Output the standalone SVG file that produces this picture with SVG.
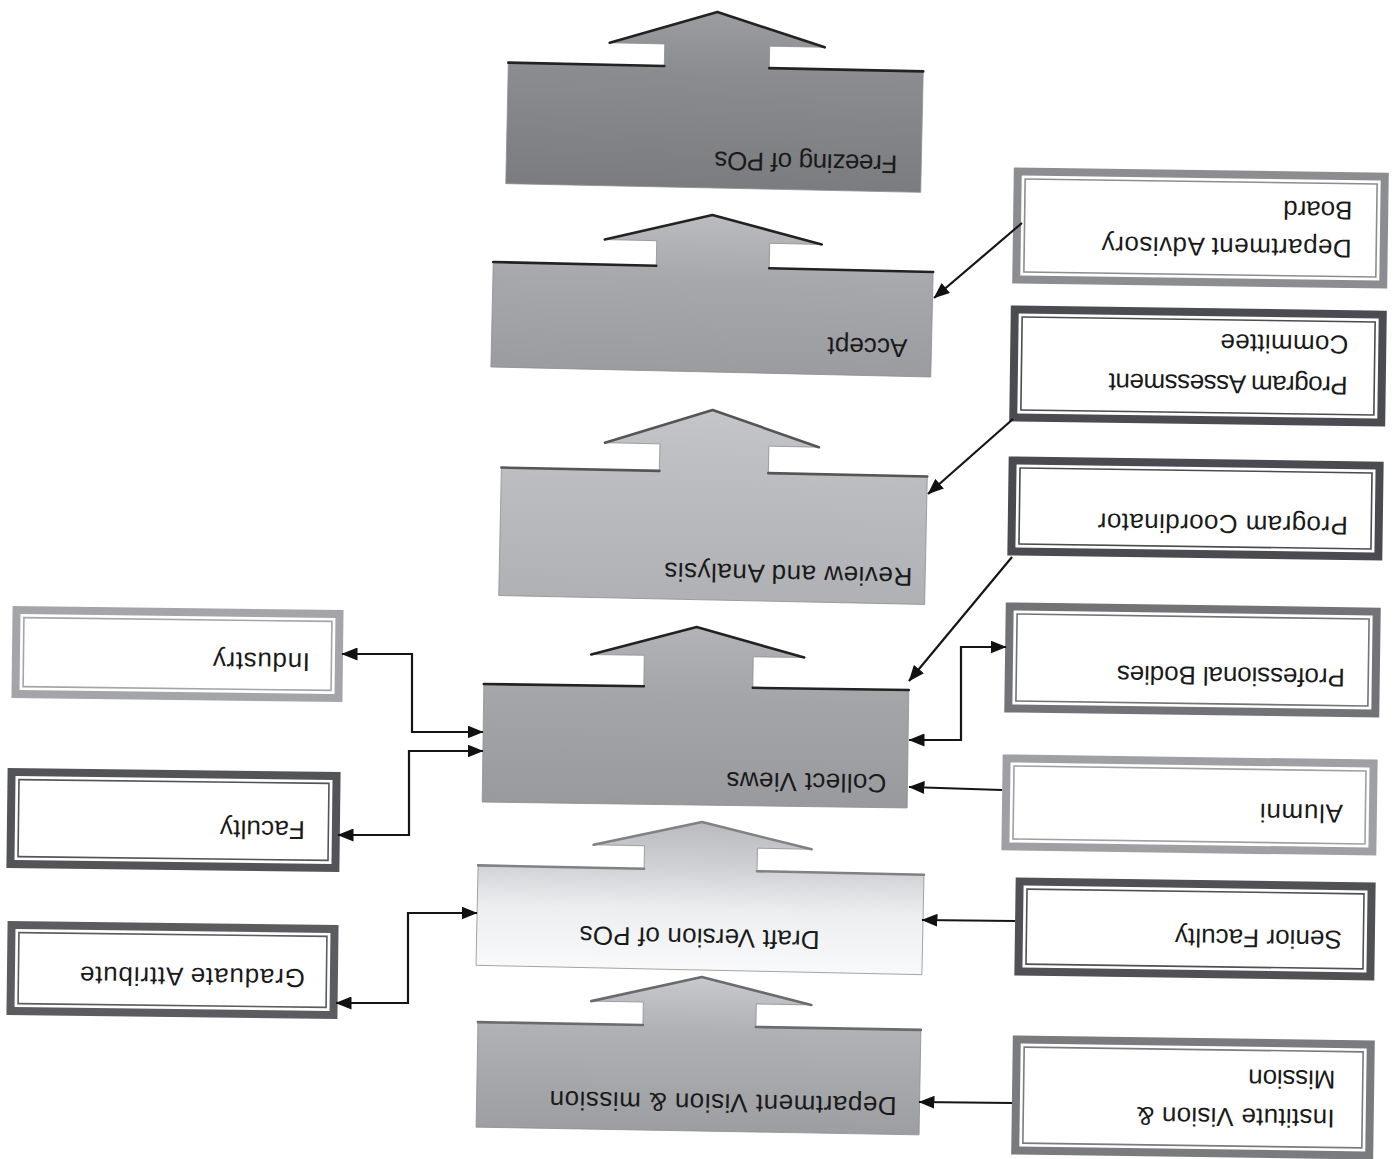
<svg xmlns="http://www.w3.org/2000/svg" width="1399" height="1159" viewBox="0 0 1399 1159">
<style>
  .lbl { font-family: "Liberation Sans", Arial, sans-serif; font-size: 26px; fill: #1a1a1a; }
  .mid { text-anchor: middle; }
  .shape { stroke: #8d8e92; stroke-width: 0.8; }
  .edge { fill: none; stroke-width: 2.6; stroke-linecap: round; stroke-linejoin: round; }
  .inner { fill: #ffffff; }
  .thin { fill: none; stroke-width: 1.6; }
  .conn { fill: none; stroke: #151515; stroke-width: 2.2; }
</style>
<defs>
  <marker id="ah" viewBox="0 0 16 13" refX="15.5" refY="6.5" markerWidth="16" markerHeight="13" markerUnits="userSpaceOnUse" orient="auto-start-reverse">
    <path d="M0,0 L16,6.5 L0,13 z" fill="#111"/>
  </marker>
  <linearGradient id="g1" x1="0" y1="0" x2="0" y2="1">
    <stop offset="0" stop-color="#9c9da1"/><stop offset="0.35" stop-color="#8a8c90"/><stop offset="1" stop-color="#7a7c80"/>
  </linearGradient>
  <linearGradient id="g2" x1="0" y1="0" x2="0" y2="1">
    <stop offset="0" stop-color="#bbbcc0"/><stop offset="0.4" stop-color="#a6a8ac"/><stop offset="1" stop-color="#9a9ca0"/>
  </linearGradient>
  <linearGradient id="g3" x1="0" y1="0" x2="0" y2="1">
    <stop offset="0" stop-color="#c4c5c8"/><stop offset="0.4" stop-color="#bbbcbf"/><stop offset="1" stop-color="#b0b1b4"/>
  </linearGradient>
  <linearGradient id="g4" x1="0" y1="0" x2="0" y2="1">
    <stop offset="0" stop-color="#b2b3b7"/><stop offset="0.4" stop-color="#a4a5a9"/><stop offset="1" stop-color="#999a9e"/>
  </linearGradient>
  <linearGradient id="g5" x1="0" y1="0" x2="0" y2="1">
    <stop offset="0" stop-color="#b9babd"/><stop offset="0.3" stop-color="#cfd0d3"/><stop offset="0.6" stop-color="#eceef0"/><stop offset="1" stop-color="#f8f9fa"/>
  </linearGradient>
  <linearGradient id="g6" x1="0" y1="0" x2="0" y2="1">
    <stop offset="0" stop-color="#c8c9cc"/><stop offset="0.35" stop-color="#b0b1b5"/><stop offset="1" stop-color="#9d9ea2"/>
  </linearGradient>
</defs>
<rect width="1399" height="1159" fill="#ffffff"/>

<!-- main process steps -->
<g id="freezing" transform="rotate(1.2 714.5 127.5)">
  <path class="shape" fill="url(#g1)" d="M507,67 H663 V45 H608 L715,12 L823,45 H768 V67 H922 V188 H507 Z"/>
  <path class="edge" stroke="#222" d="M507,67 H663 M768,67 H922 M608,45 L715,12 L823,45"/>
  <text class="lbl mid" x="806.5" y="170.3" transform="rotate(180 806.5 161)" textLength="183">Freezing of POs</text>
</g>
<g id="accept" transform="rotate(1.3 712 320)">
  <path class="shape" fill="url(#g2)" d="M492,267 H655 V242 H603 L710,215 L820,242 H768 V267 H932 V372 H492 Z"/>
  <path class="edge" stroke="#222" d="M492,267 H655 M768,267 H932 M603,242 L710,215 L820,242"/>
  <text class="lbl mid" x="868" y="353.3" transform="rotate(180 868 344)" textLength="80">Accept</text>
</g>
<g id="review" transform="rotate(1.2 713 536)">
  <path class="shape" fill="url(#g3)" d="M500,472 H658 V445 H603 L710,410 L817,445 H767 V472 H926 V600 H500 Z"/>
  <path class="edge" stroke="#555" d="M500,472 H658 M767,472 H926 M603,445 L710,410 L817,445"/>
  <text class="lbl mid" x="789" y="582.3" transform="rotate(180 789 573)" textLength="248">Review and Analysis</text>
</g>
<g id="collect" transform="rotate(0.8 695 745)">
  <path class="shape" fill="url(#g4)" d="M483,687 H643 V656 H590 L695,627 L803,656 H752 V687 H908 V805 H483 Z"/>
  <path class="edge" stroke="#222" d="M483,687 H643 M752,687 H908 M590,656 L695,627 L803,656"/>
  <text class="lbl mid" x="807" y="790.3" transform="rotate(180 807 781)" textLength="160">Collect Views</text>
</g>
<g id="draft" transform="rotate(1.2 700 920)">
  <path class="shape" fill="url(#g5)" d="M477,870 H643 V847 H592 L700,822 L810,847 H756 V870 H923 V970 H477 Z"/>
  <path class="edge" stroke="#808185" d="M477,870 H643 M756,870 H923 M592,847 L700,822 L810,847"/>
  <text class="lbl mid" x="700" y="947.3" transform="rotate(180 700 938)" textLength="240">Draft Version of POs</text>
</g>
<g id="dept-vm" transform="rotate(1.0 698.5 1078.5)">
  <path class="shape" fill="url(#g6)" d="M477,1026 H642 V1003 H590 L700,977 L810,1003 H755 V1026 H920 V1131 H477 Z"/>
  <path class="edge" stroke="#6a6b6f" d="M477,1026 H642 M755,1026 H920 M590,1003 L700,977 L810,1003"/>
  <text class="lbl mid" x="723.5" y="1112.3" transform="rotate(180 723.5 1103)" textLength="347">Department Vision &amp; mission</text>
</g>

<!-- right side stakeholders -->
<g id="dab" transform="rotate(0.8 1200 228)">
  <rect x="1013" y="170" width="375" height="116" fill="#8c8d91"/>
  <rect class="inner" x="1021" y="178" width="359" height="100"/>
  <rect class="thin" stroke="#8c8d91" x="1024.5" y="181.5" width="352" height="93"/>
  <text class="lbl" x="1352" y="256.3" transform="rotate(180 1352 247)" textLength="250">Department Advisory</text>
  <text class="lbl" x="1352" y="218.3" transform="rotate(180 1352 209)" textLength="69">Board</text>
</g>
<g id="pac" transform="rotate(0.8 1198 366)">
  <rect x="1010" y="308" width="376" height="116" fill="#4b4c51"/>
  <rect class="inner" x="1018" y="316" width="360" height="100"/>
  <rect class="thin" stroke="#4b4c51" x="1021.5" y="319.5" width="353" height="93"/>
  <text class="lbl" x="1348" y="393.3" transform="rotate(180 1348 384)" textLength="239">Program Assessment</text>
  <text class="lbl" x="1348" y="352.3" transform="rotate(180 1348 343)" textLength="128">Committee</text>
</g>
<g id="pc" transform="rotate(0.8 1195 508)">
  <rect x="1008" y="459" width="375" height="99" fill="#4a4b50"/>
  <rect class="inner" x="1016" y="467" width="359" height="83"/>
  <rect class="thin" stroke="#4a4b50" x="1019.5" y="470.5" width="352" height="76"/>
  <text class="lbl" x="1348" y="533.3" transform="rotate(180 1348 524)" textLength="250">Program Coordinator</text>
</g>
<g id="pb" transform="rotate(0.8 1192 660)">
  <rect x="1005" y="605" width="375" height="110" fill="#727377"/>
  <rect class="inner" x="1013" y="613" width="359" height="94"/>
  <rect class="thin" stroke="#727377" x="1016.5" y="616.5" width="352" height="87"/>
  <text class="lbl" x="1345" y="685.3" transform="rotate(180 1345 676)" textLength="228">Professional Bodies</text>
</g>
<g id="alumni" transform="rotate(0.8 1190 805)">
  <rect x="1002" y="757" width="375" height="96" fill="#9fa0a4"/>
  <rect class="inner" x="1010" y="765" width="359" height="80"/>
  <rect class="thin" stroke="#9fa0a4" x="1013.5" y="768.5" width="352" height="73"/>
  <text class="lbl" x="1343" y="821.3" transform="rotate(180 1343 812)" textLength="83">Alumni</text>
</g>
<g id="senior" transform="rotate(0.8 1195 929)">
  <rect x="1015" y="880" width="360" height="98" fill="#505155"/>
  <rect class="inner" x="1023" y="888" width="344" height="82"/>
  <rect class="thin" stroke="#505155" x="1026.5" y="891.5" width="337" height="75"/>
  <text class="lbl" x="1342" y="947.3" transform="rotate(180 1342 938)" textLength="167">Senior Faculty</text>
</g>
<g id="institute" transform="rotate(0.8 1193 1097)">
  <rect x="1012" y="1038" width="362" height="119" fill="#7a7b7f"/>
  <rect class="inner" x="1020" y="1046" width="346" height="103"/>
  <rect class="thin" stroke="#7a7b7f" x="1023.5" y="1049.5" width="339" height="96"/>
  <text class="lbl" x="1335" y="1126.3" transform="rotate(180 1335 1117)" textLength="198">Institute Vision &amp;</text>
  <text class="lbl" x="1335" y="1087.3" transform="rotate(180 1335 1078)" textLength="87">Mission</text>
</g>

<!-- left side stakeholders -->
<g id="industry" transform="rotate(0.7 177.5 654)">
  <rect x="12" y="608" width="331" height="92" fill="#a4a5a9"/>
  <rect class="inner" x="20" y="616" width="315" height="76"/>
  <rect class="thin" stroke="#a4a5a9" x="23.5" y="619.5" width="308" height="69"/>
  <text class="lbl" x="310" y="670.3" transform="rotate(180 310 661)" textLength="97">Industry</text>
</g>
<g id="faculty" transform="rotate(0.7 173.5 820)">
  <rect x="7" y="770" width="333" height="100" fill="#535458"/>
  <rect class="inner" x="15" y="778" width="317" height="84"/>
  <rect class="thin" stroke="#535458" x="18.5" y="781.5" width="310" height="77"/>
  <text class="lbl" x="305" y="838.3" transform="rotate(180 305 829)" textLength="85">Faculty</text>
</g>
<g id="graduate" transform="rotate(0.7 172.5 970)">
  <rect x="7" y="923" width="331" height="94" fill="#5b5c60"/>
  <rect class="inner" x="15" y="931" width="315" height="78"/>
  <rect class="thin" stroke="#5b5c60" x="18.5" y="934.5" width="308" height="71"/>
  <text class="lbl" x="305" y="986.3" transform="rotate(180 305 977)" textLength="225">Graduate Attribute</text>
</g>

<!-- connectors -->
<g id="connectors">
  <path class="conn" marker-start="url(#ah)" marker-end="url(#ah)" d="M342,654 H412 V732 H483"/>
  <path class="conn" marker-start="url(#ah)" marker-end="url(#ah)" d="M338,835 H409 V751 H483"/>
  <path class="conn" marker-start="url(#ah)" marker-end="url(#ah)" d="M336,1003 H408 V913 H477"/>
  <path class="conn" marker-end="url(#ah)" d="M1012,1103 L919,1102"/>
  <path class="conn" marker-end="url(#ah)" d="M1015,921 L922,920"/>
  <path class="conn" marker-end="url(#ah)" d="M1002,790 L909,787"/>
  <path class="conn" marker-start="url(#ah)" marker-end="url(#ah)" d="M909,740 H961 V647 H1006"/>
  <path class="conn" marker-end="url(#ah)" d="M1012,557 L909,681"/>
  <path class="conn" marker-end="url(#ah)" d="M1013,419 L928,494"/>
  <path class="conn" marker-end="url(#ah)" d="M1022,223 L934,298"/>
</g>
</svg>
